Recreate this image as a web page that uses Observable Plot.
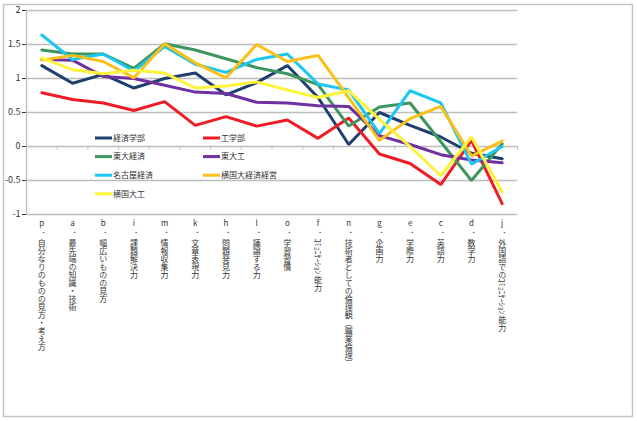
<!DOCTYPE html>
<html><head><meta charset="utf-8">
<script src="https://cdn.jsdelivr.net/npm/d3@7"></script>
<script src="https://cdn.jsdelivr.net/npm/@observablehq/plot@0.6"></script>
<style>
body{margin:0;background:#fff;}
#chart{position:relative;width:637px;height:421px;}
</style>
</head><body><div id="chart"></div>
<script>
// Categories (x axis)
const letters = ["p","a","b","i","m","k","h","l","o","f","n","g","e","c","d","j"];
const skills = [
  "自分なりのものの見方・考え方",
  "最先端の知識・技術",
  "幅広いものの見方",
  "課題解決力",
  "情報収集力",
  "文章表現力",
  "問題発見力",
  "議論する力",
  "学習習慣",
  "ｺﾐｭﾆｹｰｼｮﾝ 能力",
  "技術者としての倫理観（職業倫理）",
  "企画力",
  "学際力",
  "英語力",
  "数学力",
  "外国語でのｺﾐｭﾆｹｰｼｮﾝ 能力"
];
// Series
const seriesNames = ["経済学部","工学部","東大経済","東大工","名古屋経済","横国大経済経営","横国大工"];
const seriesColors = ["#1f3f6e","#ee1c24","#3d9660","#7030a0","#1ec6f2","#fcbf16","#fbf43a"];
const keizai   = [1.19, 0.93, 1.06, 0.86, 1.00, 1.08, 0.76, 0.94, 1.19, 0.72, 0.03, 0.50, 0.31, 0.14, -0.10, -0.18];
const kogaku   = [0.79, 0.69, 0.64, 0.53, 0.66, 0.31, 0.44, 0.30, 0.39, 0.12, 0.42, -0.11, -0.25, -0.56, 0.09, -0.84];
const todaiKei = [1.42, 1.36, 1.36, 1.15, 1.51, 1.42, 1.29, 1.16, 1.07, 0.91, 0.30, 0.58, 0.64, 0.07, -0.50, 0.04];
const todaiKo  = [1.28, 1.27, 1.03, 1.00, 0.90, 0.80, 0.78, 0.65, 0.64, 0.60, 0.59, 0.16, 0.03, -0.12, -0.20, -0.24];
const nagoya   = [1.64, 1.28, 1.36, 1.11, 1.47, 1.21, 1.09, 1.28, 1.36, 0.92, 0.83, 0.19, 0.82, 0.64, -0.26, 0.00];
const ykKei    = [1.27, 1.34, 1.25, 1.01, 1.51, 1.23, 1.01, 1.50, 1.25, 1.34, 0.72, 0.09, 0.41, 0.59, -0.14, 0.08];
const ykKo     = [1.30, 1.13, 1.07, 1.12, 1.08, 0.86, 0.89, 0.95, 0.83, 0.72, 0.82, 0.40, 0.00, -0.43, 0.14, -0.67];
const seriesValues = [keizai, kogaku, todaiKei, todaiKo, nagoya, ykKei, ykKo];
const yTicks = [-1, -0.5, 0, 0.5, 1, 1.5, 2];

const rows = [];
seriesNames.forEach((s, si) => seriesValues[si].forEach((v, i) => rows.push({series: s, i, v})));
const cats = letters.map((l, i) => ({i, letter: l, label: "．" + skills[i]}));
const bounds = d3.range(-0.5, letters.length, 1);

const font = "'Noto Sans CJK JP', 'Noto Sans', sans-serif";
const chart = Plot.plot({
  width: 637, height: 421,
  marginTop: 10, marginBottom: 207, marginLeft: 26, marginRight: 120,
  style: {fontFamily: font, fontSize: "9px", color: "#333", background: "transparent"},
  x: {domain: [-0.5, letters.length - 0.5], axis: null},
  y: {domain: [-1, 2], ticks: yTicks, tickFormat: d => String(d), tickSize: 4, tickPadding: 2, label: null},
  color: {domain: seriesNames, range: seriesColors},
  marks: [
    Plot.gridY(yTicks, {stroke: "#bdbdbd", strokeOpacity: 1, strokeWidth: 1.3}),
    Plot.ruleX([-0.5], {stroke: "#bdbdbd", strokeWidth: 1.3}),
    Plot.ruleX(bounds, {x: d => d, y1: d => 0, y2: d => 0, insetBottom: -4, stroke: "#bdbdbd"}),
    Plot.line(rows, {x: "i", y: "v", z: "series", stroke: "series", strokeWidth: 3, strokeLinejoin: "miter"}),
    Plot.text(cats, {x: "i", text: "letter", frameAnchor: "bottom", dy: 11, fontSize: 8, fill: "#333"}),
    Plot.text(cats, {x: "i", text: "label", frameAnchor: "bottom", dy: 16, textAnchor: "start", fontSize: 8, fill: "#333"})
  ]
});
const svg = d3.select(chart);
svg.selectAll("text")
  .filter(function() { return this.textContent.startsWith("．"); })
  .attr("dy", null)
  .attr("writing-mode", "vertical-rl")
  .style("writing-mode", "vertical-rl")
  .style("text-orientation", "mixed");

// outer chart border
svg.insert("rect", ":first-child")
  .attr("x", 3.5).attr("y", 4.5).attr("width", 629).attr("height", 412)
  .attr("fill", "white").attr("stroke", "#c4c4c4").attr("stroke-width", 1.5);

// legend (inside plot area)
const lg = svg.append("g").attr("font-size", 8).attr("font-family", font)
  .attr("fill", "#333").attr("text-anchor", "start");
seriesNames.forEach((s, k) => {
  const col = k % 2, row = Math.floor(k / 2);
  const x0 = col === 0 ? 95 : 203, y0 = 138 + row * 18.6;
  lg.append("line").attr("x1", x0).attr("x2", x0 + 17).attr("y1", y0).attr("y2", y0)
    .attr("stroke", seriesColors[k]).attr("stroke-width", 3);
  lg.append("text").attr("x", x0 + 18).attr("y", y0).attr("dy", "0.35em").text(s);
});
document.getElementById("chart").appendChild(chart);
</script>
</body></html>
